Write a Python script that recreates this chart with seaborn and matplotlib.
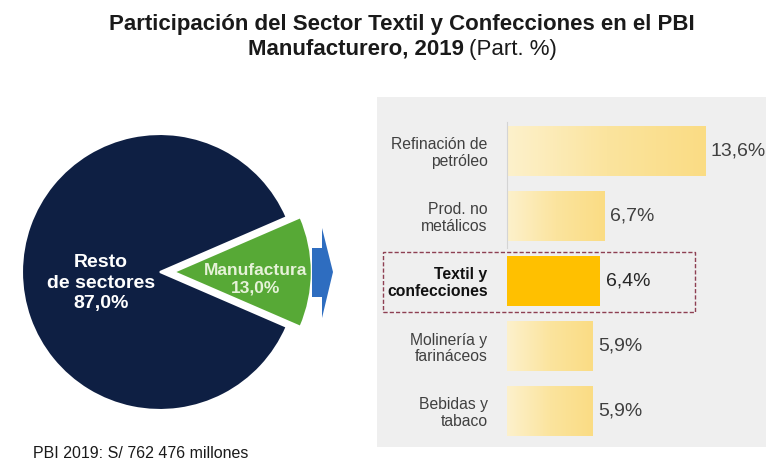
import matplotlib
matplotlib.use("Agg")
import matplotlib.pyplot as plt
import numpy as np
import pandas as pd
import seaborn as sns
from matplotlib.patches import Rectangle, Polygon
from matplotlib.colors import LinearSegmentedColormap

sns.set_theme(style="white")
plt.rcParams['font.family'] = ['Liberation Sans', 'DejaVu Sans']

# --- data -------------------------------------------------------------
pie_labels = ["Manufactura", "Resto\nde sectores"]
pie_shares = [13.0, 87.0]

sectors = ["Refinación de\npetróleo", "Prod. no\nmetálicos", "Textil y\nconfecciones",
           "Molinería y\nfarináceos", "Bebidas y\ntabaco"]
sector_shares = [13.6, 6.7, 6.4, 5.9, 5.9]
highlight = "Textil y\nconfecciones"

pbi_year = 2019
pbi_total = "762 476"

# --- colours ------------------------------------------------------------
NAVY = "#0E1F43"
GREEN = "#57A936"
ARROW = "#2E6DC0"
BAR_LIGHT = "#FCE6A4"
BAR_HL = "#FFC000"
TXT = "#404040"
INK = "#1A1A1A"

W, H = 766, 467
fig = plt.figure(figsize=(W / 100, H / 100), dpi=100)
fig.patch.set_facecolor("white")


def rect(x0, y0, x1, y1):
    """pixel box (origin top-left) -> figure-fraction [left, bottom, w, h]"""
    return [x0 / W, 1 - y1 / H, (x1 - x0) / W, (y1 - y0) / H]


def fpt(x, y):
    return (x / W, 1 - y / H)


def pct(v):
    return f"{v:.1f}".replace(".", ",") + "%"


# light grey panel behind the bar chart
fig.add_artist(Rectangle(fpt(377, 447), (W - 377) / W, (447 - 97) / H,
                         transform=fig.transFigure, facecolor="#EFEFEF",
                         edgecolor="none", zorder=-5))

# --- title ----------------------------------------------------------------
TITLE_X = 402
fig.text(*fpt(TITLE_X, 30), "Participación del Sector Textil y Confecciones en el PBI",
         ha="center", va="baseline", fontsize=16, fontweight="bold", color=INK)
t_bold = fig.text(0, 0, f"Manufacturero, {pbi_year}", ha="left", va="baseline",
                  fontsize=16, fontweight="bold", color=INK)
t_norm = fig.text(0, 0, "(Part. %)", ha="left", va="baseline",
                  fontsize=16, color=INK)
renderer = fig.canvas.get_renderer()
w_b = t_bold.get_window_extent(renderer).width
w_n = t_norm.get_window_extent(renderer).width
gap = 5
x_start = TITLE_X - (w_b + gap + w_n) / 2
t_bold.set_position(fpt(x_start, 55))
t_norm.set_position(fpt(x_start + w_b + gap, 55))

# --- pie ------------------------------------------------------------------
cx, cy, R = 160, 272, 138
ax_pie = fig.add_axes(rect(0, 100, 375, 445))
start = -pie_shares[0] / sum(pie_shares) * 360 / 2
ax_pie.pie(pie_shares, startangle=start, colors=[GREEN, NAVY],
           explode=[0.1, 0], wedgeprops=dict(edgecolor="white", linewidth=1.5))
ax_pie.set_xlim(-cx / R, (375 - cx) / R)
ax_pie.set_ylim(-(445 - cy) / R, (cy - 100) / R)
ax_pie.set_aspect("auto")
ax_pie.axis("off")

ax_pie.text(-0.43, -0.08, f"{pie_labels[1]}\n{pct(pie_shares[1])}", ha="center",
            va="center", fontsize=14, fontweight="bold", color="white",
            linespacing=1.3)
ax_pie.text(0.69, -0.05, f"{pie_labels[0]}\n{pct(pie_shares[0])}", ha="center",
            va="center", fontsize=12.5, fontweight="bold", color="#E6F2D8",
            linespacing=1.2)

# arrow pointing from the manufacturing slice to the breakdown
arrow_pts = [(312, 248), (322, 248), (322, 228), (333, 272), (322, 318),
             (322, 297), (312, 297)]
fig.add_artist(Polygon([fpt(x, y) for x, y in arrow_pts], closed=True,
                       transform=fig.transFigure, facecolor=ARROW,
                       edgecolor="none", zorder=3))

fig.text(*fpt(33, 453), f"PBI {pbi_year}: S/ {pbi_total} millones", ha="left",
         va="center", fontsize=11.5, color=INK)

# --- bars -----------------------------------------------------------------
df = pd.DataFrame({"sector": sectors, "share": sector_shares})
palette = {s: (BAR_HL if s == highlight else BAR_LIGHT) for s in sectors}

XMAX = (766 - 507) / 14.56
ax = fig.add_axes(rect(507, 118.5, 766, 443.5))
ax.set_facecolor("none")
sns.barplot(data=df, x="share", y="sector", hue="sector", palette=palette,
            legend=False, orient="h", width=0.76, saturation=1, linewidth=0,
            ax=ax)

# soft horizontal gradient on the non-highlighted bars
grad = np.linspace(0, 1, 256).reshape(1, -1)
cmap = LinearSegmentedColormap.from_list("cream", ["#FDF1CC", "#FBE49E", "#FADC84"])
for bar, s in zip(ax.patches, sectors):
    if s == highlight:
        continue
    x0, y0 = bar.get_x(), bar.get_y()
    w, h = bar.get_width(), bar.get_height()
    im = ax.imshow(grad, cmap=cmap, aspect="auto", extent=(x0, x0 + w, y0 + h, y0),
                   zorder=bar.get_zorder() + 0.1)
    im.set_clip_path(bar)
ax.set_xlim(0, XMAX)
ax.set_ylim(4.5, -0.5)

for i, v in enumerate(sector_shares):
    bold = sectors[i] == highlight
    ax.text(v + 0.4, i, pct(v), va="center", ha="left", fontsize=14,
            color="#262626" if bold else TXT)

ax.set_xlabel("")
ax.set_ylabel("")
ax.set_xticks([])
ax.tick_params(axis="y", length=0, pad=14, labelsize=11.3)
for lab in ax.get_yticklabels():
    lab.set_multialignment("right")
    lab.set_linespacing(1.15)
    if lab.get_text() == highlight:
        lab.set_fontweight("bold")
        lab.set_color("#111111")
    else:
        lab.set_color(TXT)
for side in ["top", "right", "bottom"]:
    ax.spines[side].set_visible(False)
ax.spines["left"].set_color("#D4D4D4")
ax.spines["left"].set_linewidth(0.8)
ax.spines["left"].set_bounds(-0.45, 1.5)

# dashed frame around the highlighted sector
fig.add_artist(Rectangle(fpt(383, 312), (695 - 383) / W, (312 - 252) / H,
                         transform=fig.transFigure, fill=False,
                         edgecolor="#8E3F52", linewidth=1.0,
                         linestyle=(0, (3, 1.5)), zorder=6))

fig.savefig("out.png", dpi=100)
